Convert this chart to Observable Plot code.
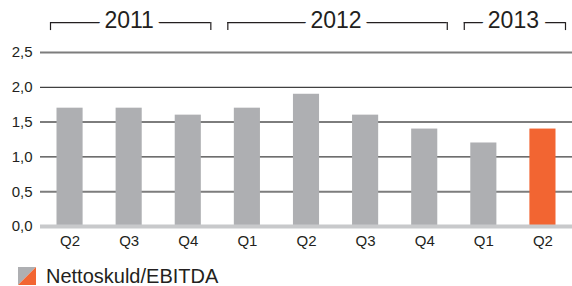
<!DOCTYPE html>
<html>
<head>
<meta charset="utf-8">
<script src="https://cdn.jsdelivr.net/npm/d3@7"></script>
<script src="https://cdn.jsdelivr.net/npm/@observablehq/plot@0.6"></script>
<style>
  html, body { margin: 0; padding: 0; background: #fff; }
  body { width: 572px; height: 286px; overflow: hidden; font-family: "Liberation Sans", Arial, sans-serif; }
  #legend { display: flex; align-items: center; margin-left: 18px; margin-top: 11px; height: 18px; font-size: 20px; color: #231f20; }
  #legend svg { margin-right: 10px; flex: none; }
</style>
</head>
<body>
<div id="chart"></div>
<div id="legend"></div>
<script>
const quarters = ["Q2", "Q3", "Q4", "Q1", "Q2", "Q3", "Q4", "Q1", "Q2"];
const years    = ["2011", "2011", "2011", "2012", "2012", "2012", "2012", "2013", "2013"];
const values   = [1.7, 1.7, 1.6, 1.7, 1.9, 1.6, 1.4, 1.2, 1.4];
const yTicks   = [0, 0.5, 1.0, 1.5, 2.0, 2.5];
const seriesName = "Nettoskuld/EBITDA";

const gray = "#aeafb2";
const orange = "#f26532";

const data = quarters.map((q, i) => ({ i, q, year: years[i], v: values[i] }));
const groups = d3.groups(data, d => d.year).map(([year, rows]) => ({
  year,
  first: d3.min(rows, d => d.i),
  last: d3.max(rows, d => d.i) + 1
}));

const fmt = d => d.toFixed(1).replace(".", ",");
const bracketY = 2.93, bracketTickY = 2.815, yearY = 2.965;

const chart = Plot.plot({
  width: 572,
  height: 256,
  marginLeft: 40,
  marginRight: 0,
  marginTop: 52,
  marginBottom: 30,
  style: { fontFamily: "Liberation Sans, Arial, sans-serif", fontSize: "15px", color: "#231f20", background: "#fff" },
  x: {
    domain: [0, data.length],
    ticks: data.map(d => d.i + 0.5),
    tickFormat: t => quarters[Math.floor(t)],
    tickSize: 0,
    tickPadding: 9,
    label: null
  },
  y: {
    domain: [0, 2.5],
    ticks: yTicks,
    tickFormat: fmt,
    tickSize: 0,
    tickPadding: 8,
    label: null
  },
  marks: [
    Plot.ruleY(yTicks.filter(t => t > 0), {
      y: d => d,
      stroke: d => (Math.round(d * 2) % 2 === 1 ? "#7d7d7d" : "#111"),
      strokeWidth: d => (Math.round(d * 2) % 2 === 1 ? 2 : 1)
    }),
    Plot.rectY(data, {
      x: "i",
      interval: 1,
      y: "v",
      insetLeft: 16.5,
      insetRight: 16.5,
      fill: d => (d.i === data.length - 1 ? orange : gray)
    }),
    Plot.ruleY([0], { stroke: "#c8c9cb", strokeWidth: 4 }),
    Plot.ruleY(groups, { x1: "first", x2: "last", y: bracketY, insetLeft: 10, insetRight: 7, stroke: "#231f20", strokeWidth: 1.2 }),
    Plot.ruleX(groups, { x: "first", y1: bracketTickY, y2: bracketY, dx: 10, stroke: "#231f20", strokeWidth: 1.2 }),
    Plot.ruleX(groups, { x: "last", y1: bracketTickY, y2: bracketY, dx: -7, stroke: "#231f20", strokeWidth: 1.2 }),
    Plot.text(groups, {
      x: d => (d.first + d.last) / 2,
      y: yearY,
      text: "year",
      fontSize: 23,
      fill: "#231f20",
      stroke: "white",
      strokeWidth: 14
    })
  ]
});
document.getElementById("chart").appendChild(chart);

const legend = document.getElementById("legend");
legend.innerHTML =
  `<svg width="18" height="18" viewBox="0 0 18 18">
     <polygon points="0,0 18,0 0,18" fill="${gray}"/>
     <polygon points="18,0 18,18 0,18" fill="${orange}"/>
   </svg><span>${seriesName}</span>`;
</script>
</body>
</html>
